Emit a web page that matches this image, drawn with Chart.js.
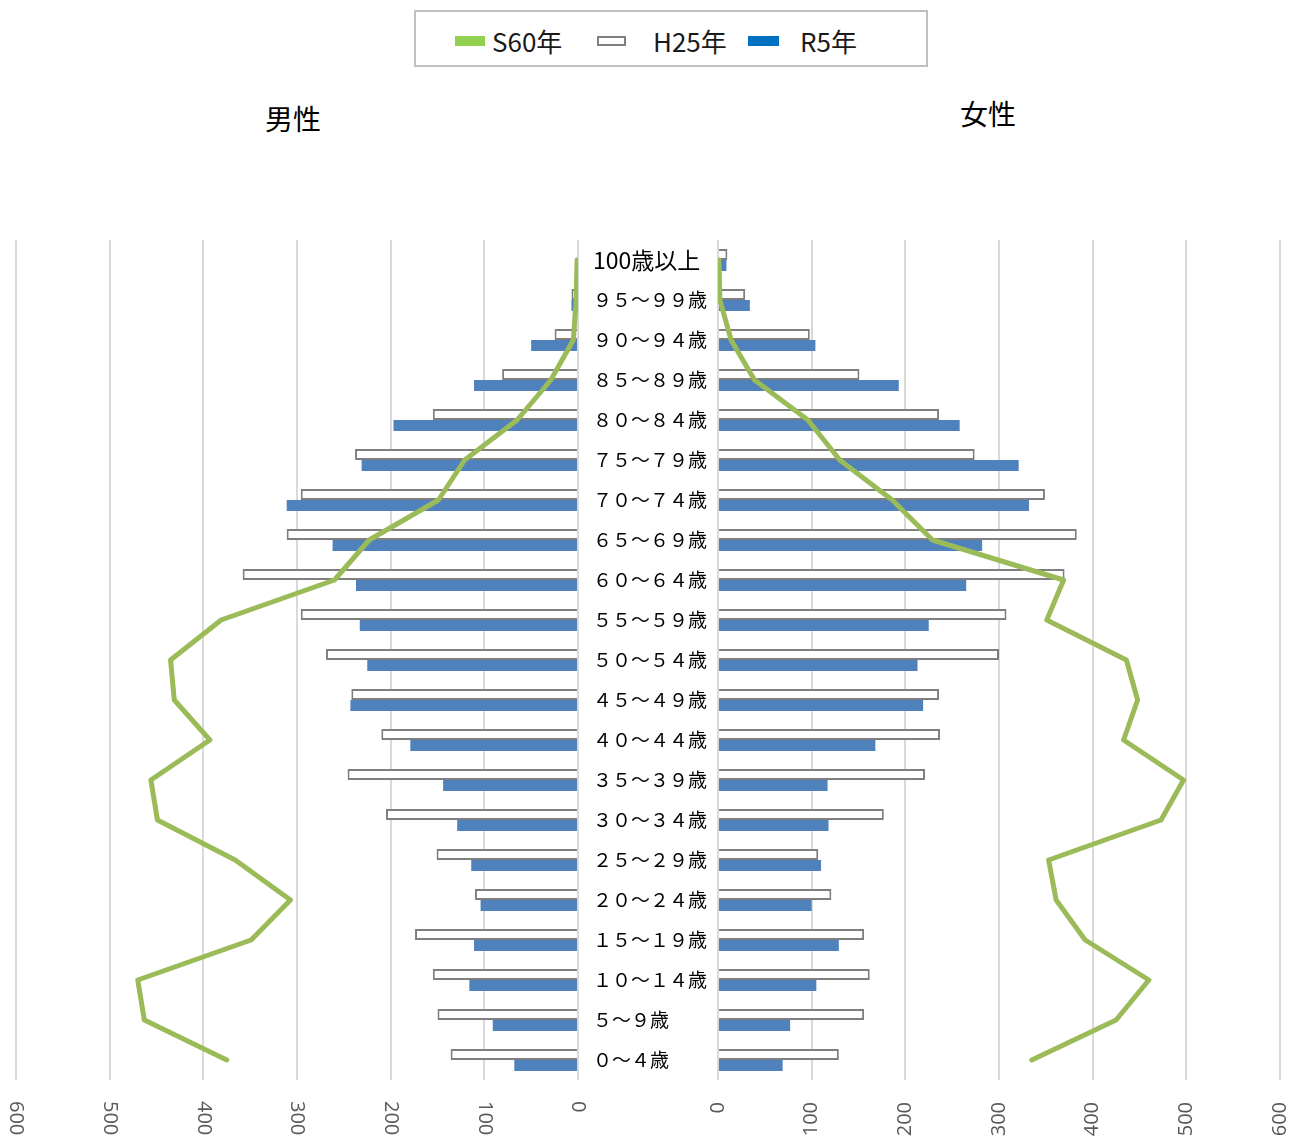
<!DOCTYPE html>
<html>
<head>
<meta charset="utf-8">
<script src="https://cdn.jsdelivr.net/npm/chart.js@4.4.0/dist/chart.umd.min.js"></script>
<style>
  body { margin: 0; background: #fff; width: 1296px; height: 1142px; position: relative; overflow: hidden;
         font-family: "Noto Sans CJK JP", sans-serif; color: #1a1a1a; }
  #legend { position: absolute; left: 414px; top: 10px; width: 510px; height: 53px; border: 2px solid #bfbfbf; }
  .sw { position: absolute; top: 36px; height: 10px; box-sizing: border-box; }
  .lt { position: absolute; top: 26px; font-size: 26px; line-height: 30px; white-space: nowrap; }
  .ttl { position: absolute; font-size: 28px; line-height: 28px; color: #000; }
  .box { position: absolute; top: 0; height: 1142px; }
</style>
</head>
<body>
<div id="legend"></div>
<div class="sw" style="left:455px;width:30px;background:#92d050"></div>
<div class="lt" style="left:492px">S60年</div>
<div class="sw" style="left:597px;width:29px;background:#fff;border:2px solid #7f7f7f"></div>
<div class="lt" style="left:653px">H25年</div>
<div class="sw" style="left:748px;width:31px;background:#0070c0"></div>
<div class="lt" style="left:800px">R5年</div>

<div class="ttl" style="left:265px;top:104px">男性</div>
<div class="ttl" style="left:960px;top:99px">女性</div>

<div class="box" style="left:0;width:640px"><canvas id="male"></canvas></div>
<div class="box" style="left:578px;width:718px"><canvas id="female"></canvas></div>

<script>
// age groups, top to bottom
const ageGroups = ['100歳以上', '９５～９９歳', '９０～９４歳', '８５～８９歳', '８０～８４歳', '７５～７９歳',
  '７０～７４歳', '６５～６９歳', '６０～６４歳', '５５～５９歳', '５０～５４歳', '４５～４９歳', '４０～４４歳',
  '３５～３９歳', '３０～３４歳', '２５～２９歳', '２０～２４歳', '１５～１９歳', '１０～１４歳', '５～９歳', '０～４歳'];

// male
const maleS60 = [1, 2, 5, 29, 65, 121, 149, 223, 260, 381, 435, 431, 393, 456, 449, 366, 307, 349, 470, 463, 375];
const maleH25 = [1, 7, 25, 81, 155, 238, 296, 311, 358, 296, 269, 242, 210, 246, 205, 151, 110, 174, 155, 150, 136];
const maleR5 = [1, 7, 50, 111, 197, 231, 311, 262, 237, 233, 225, 243, 179, 144, 129, 114, 104, 111, 116, 91, 68];

// female
const femaleS60 = [1, 2, 14, 39, 96, 130, 186, 229, 369, 351, 436, 448, 433, 497, 473, 353, 361, 392, 460, 425, 335];
const femaleH25 = [10, 29, 98, 151, 236, 274, 349, 383, 370, 308, 300, 236, 237, 221, 177, 107, 121, 156, 162, 156, 129];
const femaleR5 = [9, 34, 104, 193, 258, 321, 332, 282, 265, 225, 213, 219, 168, 117, 118, 110, 100, 129, 105, 77, 69];

const axisTicks = [0, 100, 200, 300, 400, 500, 600];

function makeDatasets(s60, h25, r5) {
  return [
    { type: 'line', label: 'S60年', data: s60, borderColor: '#9bbb59', borderWidth: 5,
      pointRadius: 0, fill: false, tension: 0, borderJoinStyle: 'round', borderCapStyle: 'round' },
    { label: 'H25年', data: h25, backgroundColor: '#ffffff', borderColor: '#7f7f7f', borderWidth: 2,
      categoryPercentage: 0.55, barPercentage: 1 },
    { label: 'R5年', data: r5, backgroundColor: '#4f81bd', borderWidth: 0,
      categoryPercentage: 0.55, barPercentage: 1 }
  ];
}

const gridOpts = { color: '#d9d9d9', lineWidth: 2, drawTicks: false };

// left side labels read top to bottom, so draw them ourselves
const flipTicks = {
  id: 'flipTicks',
  afterDraw(chart) {
    const sc = chart.scales.x;
    const ctx = chart.ctx;
    ctx.save();
    ctx.font = '20px "Open Sans"';
    ctx.fillStyle = '#595959';
    ctx.textAlign = 'left';
    ctx.textBaseline = 'middle';
    sc.ticks.forEach(t => {
      ctx.save();
      ctx.translate(sc.getPixelForValue(t.value), chart.chartArea.bottom + 21);
      ctx.rotate(Math.PI / 2);
      ctx.fillText(String(t.value), 0, 0);
      ctx.restore();
    });
    ctx.restore();
  }
};

new Chart(document.getElementById('male'), {
  type: 'bar',
  data: { labels: ageGroups, datasets: makeDatasets(maleS60, maleH25, maleR5) },
  options: {
    indexAxis: 'y',
    responsive: true,
    maintainAspectRatio: false,
    animation: false,
    layout: { padding: { left: 16, right: 62, top: 240, bottom: 62 } },
    plugins: { legend: { display: false }, tooltip: { enabled: false } },
    scales: {
      x: {
        type: 'linear', reverse: true, min: 0, max: 600,
        afterBuildTicks: s => { s.ticks = axisTicks.map(v => ({ value: v })); },
        afterFit: s => { s.paddingLeft = 0; s.paddingRight = 0; },
        ticks: { display: false },
        grid: gridOpts,
        border: { display: false }
      },
      y: { display: false }
    }
  },
  plugins: [flipTicks]
});

new Chart(document.getElementById('female'), {
  type: 'bar',
  data: { labels: ageGroups, datasets: makeDatasets(femaleS60, femaleH25, femaleR5) },
  options: {
    indexAxis: 'y',
    responsive: true,
    maintainAspectRatio: false,
    animation: false,
    layout: { padding: { left: 15, right: 16, top: 240, bottom: 0 } },
    plugins: { legend: { display: false }, tooltip: { enabled: false } },
    scales: {
      x: {
        type: 'linear', min: 0, max: 600,
        afterBuildTicks: s => { s.ticks = axisTicks.map(v => ({ value: v })); },
        afterFit: s => { s.height = 62; s.paddingLeft = 0; s.paddingRight = 0; },
        ticks: { minRotation: 90, maxRotation: 90, padding: 22, color: '#595959',
                 font: { family: 'Open Sans', size: 20 } },
        grid: gridOpts,
        border: { display: false }
      },
      y: {
        position: 'left',
        afterFit: s => { s.width = 125; },
        ticks: {
          crossAlign: 'far', padding: 0, color: '#000',
          font: ctx => ({ family: 'Noto Sans CJK JP', size: ctx.index === 0 ? 23 : 19 })
        },
        grid: { display: false },
        border: { display: false }
      }
    }
  }
});
</script>
</body>
</html>
